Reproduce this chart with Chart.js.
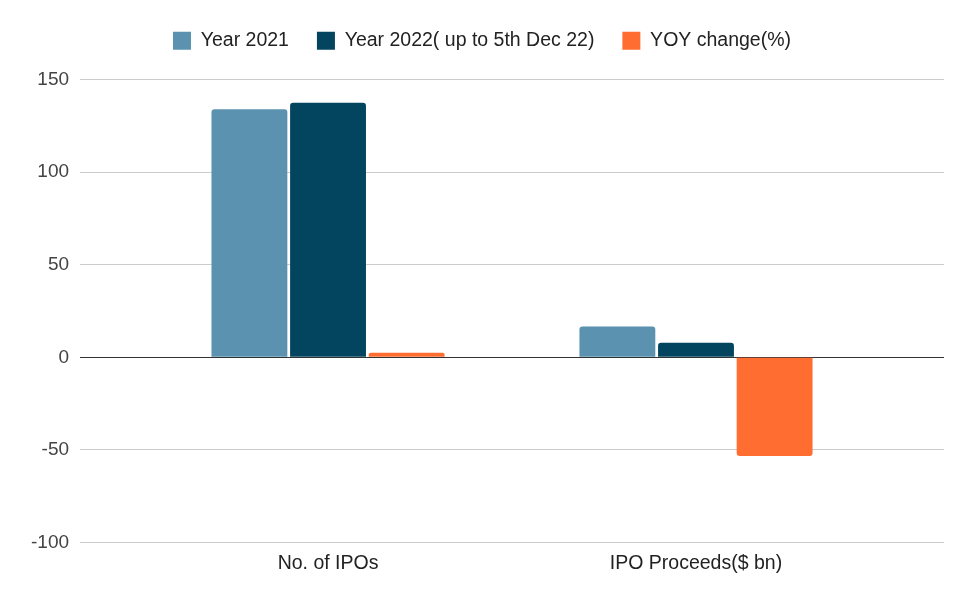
<!DOCTYPE html>
<html>
<head>
<meta charset="utf-8">
<script src="https://cdn.jsdelivr.net/npm/chart.js@4/dist/chart.umd.min.js"></script>
<style>
  html, body { margin: 0; padding: 0; background: #fff; }
  #wrap { width: 975px; height: 602px; }
</style>
</head>
<body>
<div id="wrap"><canvas id="chart-ipo"></canvas></div>
<script>
// Kategorien und Werte
const CATEGORIES = ['No. of IPOs', 'IPO Proceeds($ bn)'];
const SERIES_NAMES = ['Year 2021', 'Year 2022( up to 5th Dec 22)', 'YOY change(%)'];
const YEAR_2021 = [134, 16.7];
const YEAR_2022 = [137.4, 7.9];
const YOY_CHANGE = [2.5, -53.3];
const Y_TICKS = [-100, -50, 0, 50, 100, 150];

const COLORS = {
    y2021: '#5a92af',
    y2022: '#03445f',
    yoy: '#ff6d31',
    grid: '#cccccc',
    zero: '#333333',
    text: '#444444'
};

const FONT = 'Liberation Sans, Arial, sans-serif';

// Balken auf linearer x-Achse (Kategorie-Index)
function toPoints(values) {
    return values.map((v, i) => ({ x: i, y: v }));
}

// Abstand unter der Legende
const legendMargin = {
    id: 'legendMargin',
    beforeInit(chart) {
        const fit = chart.legend.fit;
        chart.legend.fit = function () {
            fit.bind(chart.legend)();
            this.height += 19;
        };
    }
};

const ctx = document.getElementById('chart-ipo');

new Chart(ctx, {
    type: 'bar',
    data: {
        datasets: [
            { label: SERIES_NAMES[0], data: toPoints(YEAR_2021), backgroundColor: COLORS.y2021 },
            { label: SERIES_NAMES[1], data: toPoints(YEAR_2022), backgroundColor: COLORS.y2022 },
            { label: SERIES_NAMES[2], data: toPoints(YOY_CHANGE), backgroundColor: COLORS.yoy }
        ]
    },
    plugins: [legendMargin],
    options: {
        responsive: true,
        maintainAspectRatio: false,
        animation: false,
        devicePixelRatio: 1,
        categoryPercentage: 0.641,
        barPercentage: 0.965,
        borderRadius: 3,
        layout: { padding: { left: 20, right: 31, top: 3, bottom: 26 } },
        plugins: {
            tooltip: { enabled: false },
            legend: {
                position: 'top',
                labels: {
                    font: { family: FONT, size: 19.5 },
                    color: '#222',
                    boxWidth: 18,
                    boxHeight: 18,
                    padding: 28
                }
            }
        },
        scales: {
            x: {
                type: 'linear',
                offset: false,
                min: -0.674,
                max: 1.674,
                afterBuildTicks: (axis) => {
                    axis.ticks = CATEGORIES.map((c, i) => ({ value: i }));
                },
                ticks: {
                    callback: (value) => CATEGORIES[value],
                    font: { family: FONT, size: 19.5 },
                    color: '#222',
                    maxRotation: 0,
                    autoSkip: false,
                    padding: 1
                },
                grid: { display: false },
                border: { display: false }
            },
            y: {
                min: -100,
                max: 150,
                afterBuildTicks: (axis) => {
                    axis.ticks = Y_TICKS.map(v => ({ value: v }));
                },
                ticks: {
                    font: { family: FONT, size: 19 },
                    color: COLORS.text,
                    padding: 11
                },
                grid: {
                    drawTicks: false,
                    color: (c) => (c.tick && c.tick.value === 0 ? COLORS.zero : COLORS.grid)
                },
                border: { display: false }
            }
        }
    }
});
</script>
</body>
</html>
